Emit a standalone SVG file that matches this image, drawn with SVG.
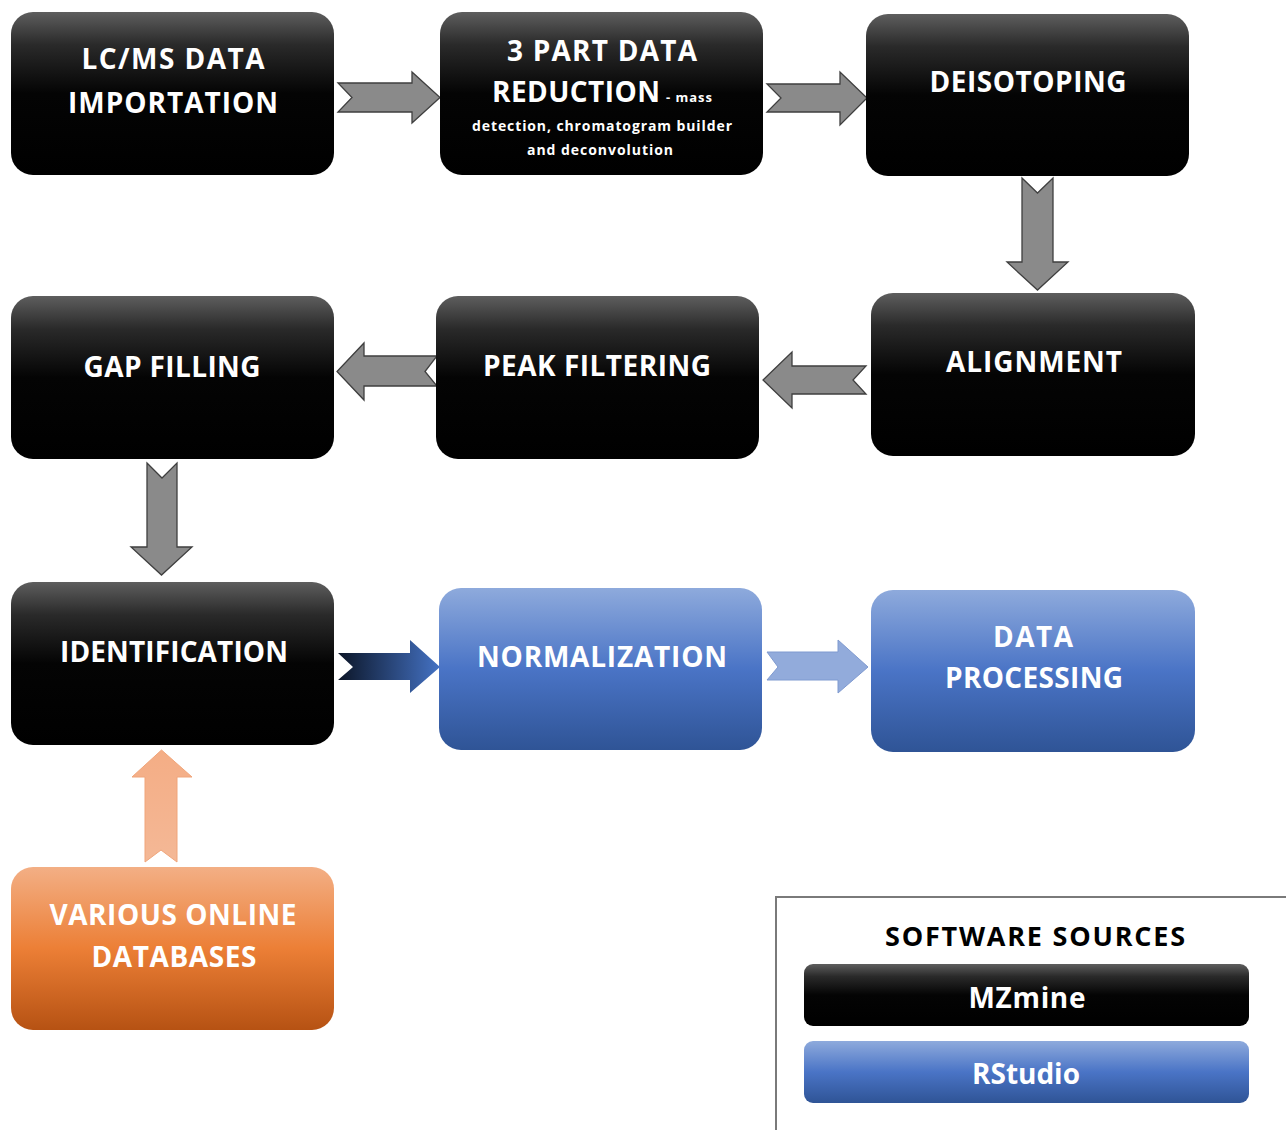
<svg xmlns="http://www.w3.org/2000/svg" width="1286" height="1130" viewBox="0 0 1286 1130">
<defs>
<linearGradient id="gBlack" x1="0" y1="0" x2="0" y2="1">
<stop offset="0" stop-color="#5e5e5e"/>
<stop offset="0.2" stop-color="#2a2a2a"/>
<stop offset="0.5" stop-color="#040404"/>
<stop offset="1" stop-color="#000"/>
</linearGradient>
<linearGradient id="gBlue" x1="0" y1="0" x2="0" y2="1">
<stop offset="0" stop-color="#8eaadc"/>
<stop offset="0.5" stop-color="#4a74c6"/>
<stop offset="1" stop-color="#2f5496"/>
</linearGradient>
<linearGradient id="gOrange" x1="0" y1="0" x2="0" y2="1">
<stop offset="0" stop-color="#f3af85"/>
<stop offset="0.5" stop-color="#ec7f36"/>
<stop offset="1" stop-color="#b65213"/>
</linearGradient>
<linearGradient id="gDarkArrow" x1="0" y1="0" x2="1" y2="0">
<stop offset="0" stop-color="#0c1628"/>
<stop offset="1" stop-color="#4472c4"/>
</linearGradient>
<linearGradient id="gOrangeArrow" x1="0" y1="0" x2="0" y2="1">
<stop offset="0" stop-color="#f4ad85"/>
<stop offset="1" stop-color="#f4b896"/>
</linearGradient>
<style>
.nb{fill:url(#gBlack);}
.nbl{fill:url(#gBlue);}
.nor{fill:url(#gOrange);}
.t{font-family:"Open Sans","Liberation Sans",Arial,sans-serif;font-weight:bold;fill:#fff;font-size:28px;text-anchor:middle;}
.ts{font-family:"Open Sans","Liberation Sans",Arial,sans-serif;font-weight:bold;fill:#fff;font-size:14px;text-anchor:middle;}
.ag{fill:#8a8a8a;stroke:#3f3f3f;stroke-width:1.3;stroke-linejoin:miter;}
</style>
</defs>
<rect width="1286" height="1130" fill="#fff"/>

<g id="connectors">
<polygon class="ag" points="338,83 412,83 412,72 440,97.5 412,123 412,112 338,112 352,97.5"/>
<polygon class="ag" points="767,84 840,84 840,72 867,98 840,125 840,112 767,112 781,98"/>
<polygon class="ag" points="1022,178 1037.5,193 1053,178 1053,262 1068,262 1037.5,290 1007,262 1022,262"/>
<polygon class="ag" points="866,366 792,366 792,352 763,380 792,408 792,394 866,394 853,380"/>
<polygon class="ag" points="437,356 364,356 364,343 337,371.5 364,400 364,386 437,386 425,371.5"/>
<polygon class="ag" points="147,463 162,478 177,463 177,547 192,547 161.5,575 131,547 147,547"/>
<polygon fill="url(#gDarkArrow)" points="338,653 410,653 410,640 440,667 410,693 410,680 338,680 353,667"/>
<polygon fill="#92abdb" stroke="#7f9ad0" stroke-width="1" points="767,652 838,652 838,640 868,667 838,693 838,680 767,680 778,667"/>
<polygon fill="url(#gOrangeArrow)" stroke="#f0a57a" stroke-width="1" points="145,862 161,850 177,862 177,777 192,777 161.5,750 132,777 145,777"/>
</g>

<g id="n1">
<rect class="nb" x="11" y="12" width="323" height="163" rx="22"/>
<text class="t" x="173" y="69" textLength="183" lengthAdjust="spacing">LC/MS DATA</text>
<text class="t" x="173" y="113" textLength="210" lengthAdjust="spacing">IMPORTATION</text>
</g>

<g id="n2">
<rect class="nb" x="440" y="12" width="323" height="163" rx="22"/>
<text class="t" x="602" y="61" textLength="190" lengthAdjust="spacing">3 PART DATA</text>
<text class="t" y="102"><tspan x="576" textLength="168" lengthAdjust="spacing">REDUCTION</tspan><tspan x="689" font-size="13" textLength="46" lengthAdjust="spacing">- mass</tspan></text>
<text class="ts" x="602" y="131" textLength="260" lengthAdjust="spacing">detection, chromatogram builder</text>
<text class="ts" x="600" y="155" textLength="146" lengthAdjust="spacing">and deconvolution</text>
</g>

<g id="n3">
<rect class="nb" x="866" y="14" width="323" height="162" rx="22"/>
<text class="t" x="1028" y="92" textLength="197" lengthAdjust="spacing">DEISOTOPING</text>
</g>

<g id="n4">
<rect class="nb" x="871" y="293" width="324" height="163" rx="22"/>
<text class="t" x="1034" y="372" textLength="176" lengthAdjust="spacing">ALIGNMENT</text>
</g>

<g id="n5">
<rect class="nb" x="436" y="296" width="323" height="163" rx="22"/>
<text class="t" x="597" y="376" textLength="228" lengthAdjust="spacing">PEAK FILTERING</text>
</g>

<g id="n6">
<rect class="nb" x="11" y="296" width="323" height="163" rx="22"/>
<text class="t" x="172" y="377" textLength="177" lengthAdjust="spacing">GAP FILLING</text>
</g>

<g id="n7">
<rect class="nb" x="11" y="582" width="323" height="163" rx="22"/>
<text class="t" x="174" y="662" textLength="228" lengthAdjust="spacing">IDENTIFICATION</text>
</g>

<g id="n8">
<rect class="nbl" x="439" y="588" width="323" height="162" rx="22"/>
<text class="t" x="602" y="667" textLength="250" lengthAdjust="spacing">NORMALIZATION</text>
</g>

<g id="n9">
<rect class="nbl" x="871" y="590" width="324" height="162" rx="22"/>
<text class="t" x="1033" y="647" textLength="80" lengthAdjust="spacing">DATA</text>
<text class="t" x="1034" y="688" textLength="178" lengthAdjust="spacing">PROCESSING</text>
</g>

<g id="n10">
<rect class="nor" x="11" y="867" width="323" height="163" rx="22"/>
<text class="t" x="173" y="925" textLength="247" lengthAdjust="spacing">VARIOUS ONLINE</text>
<text class="t" x="174" y="967" textLength="165" lengthAdjust="spacing">DATABASES</text>
</g>

<g id="legend">
<rect x="776" y="897" width="530" height="260" fill="none" stroke="#7a7a7a" stroke-width="2"/>
<text x="1035" y="946" font-family="'Open Sans','Liberation Sans',Arial,sans-serif" font-weight="bold" font-size="27" fill="#000" text-anchor="middle" textLength="300" lengthAdjust="spacing">SOFTWARE SOURCES</text>
<g id="legend-mzmine">
<rect class="nb" x="804" y="964" width="445" height="62" rx="9"/>
<text class="t" x="1027" y="1008" font-size="26" textLength="117" lengthAdjust="spacing">MZmine</text>
</g>
<g id="legend-rstudio">
<rect class="nbl" x="804" y="1041" width="445" height="62" rx="9"/>
<text class="t" x="1026" y="1084" font-size="26" textLength="108" lengthAdjust="spacing">RStudio</text>
</g>
</g>
</svg>
